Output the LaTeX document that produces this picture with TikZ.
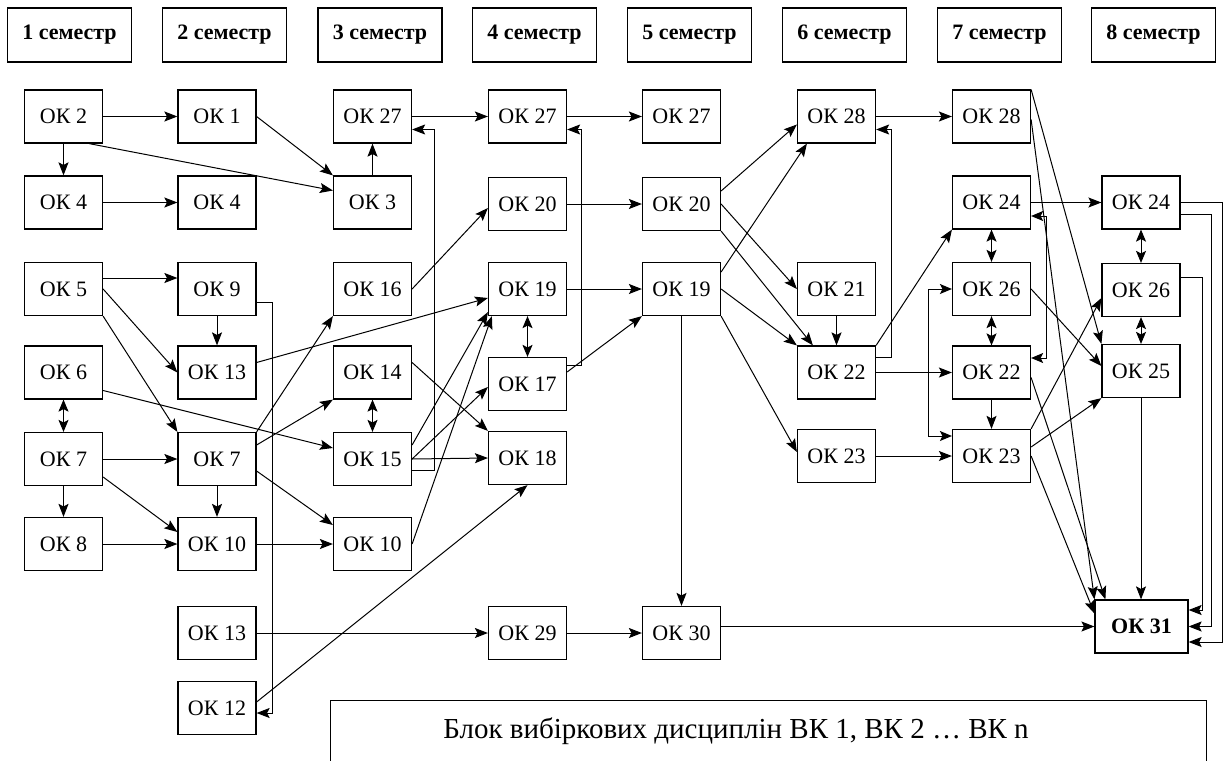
\documentclass[tikz,border=0pt]{standalone}
\usepackage{fontspec}
\setmainfont{Liberation Serif}
\usetikzlibrary{arrows.meta,calc}
\begin{document}
\begin{tikzpicture}[x=1pt,y=-1pt,
 box/.style={draw,line width=1.2pt,minimum width=78pt,minimum height=53pt,inner sep=0pt,font=\fontsize{22}{25}\selectfont},
 sem/.style={draw,line width=1.2pt,minimum width=124pt,minimum height=54pt,inner sep=0pt,font=\fontsize{22}{26}\selectfont\bfseries},
 arr/.style={line width=1pt,-{Stealth[length=13pt,width=10pt,inset=2.5pt]}},
 darr/.style={line width=1pt,{Stealth[length=12pt,width=10pt,inset=2.5pt]}-{Stealth[length=12pt,width=10pt,inset=2.5pt]}}]
\useasboundingbox[fill=white] (0,0) rectangle (1225,760);
% semesters
\node[sem] (s1) at (69.5,35) {1 семестр};
\node[sem] (s2) at (224.5,35) {2 семестр};
\node[sem] (s3) at (380,35) {3 семестр};
\node[sem] (s4) at (534.5,35) {4 семестр};
\node[sem] (s5) at (689.5,35) {5 семестр};
\node[sem] (s6) at (844.5,35) {6 семестр};
\node[sem] (s7) at (999.5,35) {7 семестр};
\node[sem] (s8) at (1153.5,35) {8 семестр};
% row A
\node[box] (c1a) at (63.5,116.5) {ОК 2};
\node[box] (c2a) at (217,116.5) {ОК 1};
\node[box] (c3a) at (372.5,116.5) {ОК 27};
\node[box] (c4a) at (527.5,116.5) {ОК 27};
\node[box] (c5a) at (681.5,116.5) {ОК 27};
\node[box] (c6a) at (836.5,116.5) {ОК 28};
\node[box] (c7a) at (991.5,116.5) {ОК 28};
% row B
\node[box] (c1b) at (63.5,202.5) {ОК 4};
\node[box] (c2b) at (217,202.5) {ОК 4};
\node[box] (c3b) at (372.5,202.5) {ОК 3};
\node[box] (c4b) at (527.5,204) {ОК 20};
\node[box] (c5b) at (681.5,204) {ОК 20};
\node[box] (c7b) at (991.5,202.5) {ОК 24};
\node[box] (c8b) at (1141,202.5) {ОК 24};
% row C
\node[box] (c1c) at (63.5,289) {ОК 5};
\node[box] (c2c) at (217,289) {ОК 9};
\node[box] (c3c) at (372.5,289) {ОК 16};
\node[box] (c4c) at (527.5,289) {ОК 19};
\node[box] (c5c) at (681.5,289) {ОК 19};
\node[box] (c6c) at (836.5,289) {ОК 21};
\node[box] (c7c) at (991.5,289) {ОК 26};
\node[box] (c8c) at (1141,290) {ОК 26};
% row D
\node[box] (c1d) at (63.5,372.5) {ОК 6};
\node[box] (c2d) at (217,372.5) {ОК 13};
\node[box] (c3d) at (372.5,372.5) {ОК 14};
\node[box] (c4d) at (527.5,384) {ОК 17};
\node[box] (c6d) at (836.5,372.5) {ОК 22};
\node[box] (c7d) at (991.5,372.5) {ОК 22};
\node[box] (c8d) at (1141,371) {ОК 25};
% row E
\node[box] (c1e) at (63.5,459) {ОК 7};
\node[box] (c2e) at (217,459) {ОК 7};
\node[box] (c3e) at (372.5,459) {ОК 15};
\node[box] (c4e) at (527.5,458) {ОК 18};
\node[box] (c6e) at (836.5,456) {ОК 23};
\node[box] (c7e) at (991.5,456) {ОК 23};
% row F
\node[box] (c1f) at (63.5,544) {ОК 8};
\node[box] (c2f) at (217,544) {ОК 10};
\node[box] (c3f) at (372.5,544) {ОК 10};
% row G, H
\node[box] (c2g) at (217,633) {ОК 13};
\node[box] (c4g) at (527.5,633) {ОК 29};
\node[box] (c5g) at (681.5,633) {ОК 30};
\node[box,minimum width=93pt,font=\fontsize{22}{25}\selectfont\bfseries] (ok31) at (1141.5,626.5) {ОК 31};
\node[box] (c2h) at (217,708) {ОК 12};
% elective block
\node[draw,line width=1.2pt,minimum width=876pt,minimum height=70pt,anchor=north west,inner sep=0pt] (blk) at (330,700) {};
\node[font=\fontsize{29}{33}\selectfont,inner sep=0pt] (blktxt) at (736,731) {Блок вибіркових дисциплін ВК 1, ВК 2 … ВК n};
% edges columns 1-4
\draw[arr] (c1a.east) -- (c2a.west);
\draw[arr] (c1a.south) -- (c1b.north);
\draw[arr] ($(c1a.south east)+(-14,0)$) -- ($(c3b.west)+(0,-12)$);
\draw[arr] (c2a.east) -- (c3b.north west);
\draw[arr] (c1b.east) -- (c2b.west);
\draw[arr] (c3b.north) -- (c3a.south);
\draw[arr] (c3a.east) -- (c4a.west);
\draw[arr] (c4a.east) -- (c5a.west);
\draw[arr] ($(c1c.east)+(0,-11)$) -- ($(c2c.west)+(0,-11)$);
\draw[arr] (c1c.east) -- (c2d.west);
\draw[arr] (c1c.south east) -- (c2e.north west);
\draw[arr] (c2c.south) -- (c2d.north);
\draw[arr] ($(c2c.east)+(0,13)$) -- ++(16,0) |- ($(c2h.east)+(0,5)$);
\draw[arr] ($(c2d.east)+(0,-10)$) -- ($(c4c.west)+(0,9)$);
\draw[arr] (c3c.east) -- ($(c4b.west)+(0,4)$);
\draw[arr] (c4b.east) -- (c5b.west);
\draw[arr] (c4c.east) -- (c5c.west);
\draw[darr] (c4c.south) -- (c4d.north);
\draw[arr] ($(c4d.east)+(0,-12)$) -- (c5c.south west);
\draw[arr] ($(c4d.east)+(0,-19)$) -- ++(14,0) |- ($(c4a.east)+(0,13)$);
\draw[arr] ($(c3e.east)+(0,11)$) -- ++(22,0) |- ($(c3a.east)+(0,13)$);
\draw[darr] (c3d.south) -- (c3e.north);
\draw[arr] ($(c3d.east)+(0,-10)$) -- (c4e.north west);
\draw[arr] (c3e.east) -- (c4e.west);
\draw[arr] (c3e.east) -- ($(c4d.west)+(0,3)$);
\draw[arr] ($(c3e.east)+(0,-14)$) -- ($(c4c.south west)+(0,-4)$);
\draw[arr] (c3f.east) -- ($(c4c.south west)+(4,0)$);
\draw[arr] ($(c2h.east)+(0,-6)$) -- (c4e.south);
\draw[arr] (c2g.east) -- (c4g.west);
\draw[arr] (c4g.east) -- (c5g.west);
\draw[arr] ($(c5g.east)+(0,-6.5)$) -- (ok31.west);
\draw[arr] (c5c.south) -- (c5g.north);
\draw[darr] (c1d.south) -- (c1e.north);
\draw[arr] ($(c1d.east)+(0,18)$) -- ($(c3e.west)+(0,-11)$);
\draw[arr] (c1e.east) -- (c2e.west);
\draw[arr] (c1e.south) -- (c1f.north);
\draw[arr] ($(c1e.east)+(0,18)$) -- ($(c2f.west)+(0,-12)$);
\draw[arr] (c1f.east) -- (c2f.west);
\draw[arr] (c2e.south) -- (c2f.north);
\draw[arr] (c2e.north east) -- (c3c.south west);
\draw[arr] ($(c2e.east)+(0,-14)$) -- (c3d.south west);
\draw[arr] ($(c2e.east)+(0,12)$) -- ($(c3f.west)+(0,-19)$);
\draw[arr] (c2f.east) -- (c3f.west);
% columns 5-6
\draw[arr] ($(c5b.east)+(0,-13)$) -- ($(c6a.west)+(0,8)$);
\draw[arr] ($(c5c.east)+(0,-17)$) -- ($(c6a.south west)+(10,0)$);
\draw[arr] (c5b.east) -- (c6c.west);
\draw[arr] (c5b.south east) -- ($(c6d.north west)+(16,0)$);
\draw[arr] (c5c.east) -- (c6d.north west);
\draw[arr] (c5c.south east) -- ($(c6e.west)+(0,-4)$);
\draw[arr] (c6c.south) -- (c6d.north);
\draw[arr] ($(c6d.east)+(0,-15)$) -- ++(15,0) |- ($(c6a.east)+(0,13)$);
\draw[arr] (c6a.east) -- (c7a.west);
\draw[arr] (c6d.north east) -- (c7b.south west);
\draw[arr] (c6d.east) -- (c7d.west);
\draw[arr] (c6e.east) -- (c7e.west);
% columns 7-8
\draw[arr] (c7b.east) -- (c8b.west);
\draw[darr] (c7b.south) -- (c7c.north);
\draw[darr] (c7c.south) -- (c7d.north);
\draw[arr] (c7d.south) -- (c7e.north);
\draw[darr] (c7c.west) -- ++(-23,0) |- ($(c7e.west)+(0,-20)$);
\draw[darr] ($(c7b.east)+(0,13.5)$) -- ++(15,0) |- ($(c7d.east)+(0,-14.5)$);
\draw[arr] (c7c.east) -- ($(c8d.west)+(0,-5)$);
\draw[arr] (c7e.north east) -- ($(c8c.west)+(0,8)$);
\draw[arr] ($(c7e.east)+(0,-9)$) -- (c8d.south west);
\draw[arr] (c7a.north east) -- (c8d.north west);
\draw[arr] ($(c7a.east)+(0,3)$) -- (ok31.north west);
\draw[arr] ($(c7d.east)+(0,5)$) -- ($(ok31.north west)+(11,0)$);
\draw[arr] (c7e.east) -- ($(ok31.west)+(0,-13)$);
\draw[darr] (c8b.south) -- (c8c.north);
\draw[darr] (c8c.south) -- (c8d.north);
\draw[arr] (c8d.south) -- (c8d.south |- ok31.north);
\draw[arr] ($(c8b.east)+(0,-0.5)$) -- ++(42,0) |- ($(ok31.east)+(0,15.5)$);
\draw[arr] ($(c8b.east)+(0,11.5)$) -- ++(31,0) |- (ok31.east);
\draw[arr] ($(c8c.east)+(0,-13)$) -- ++(22,0) |- ($(ok31.east)+(0,-16.5)$);
\end{tikzpicture}
\end{document}
